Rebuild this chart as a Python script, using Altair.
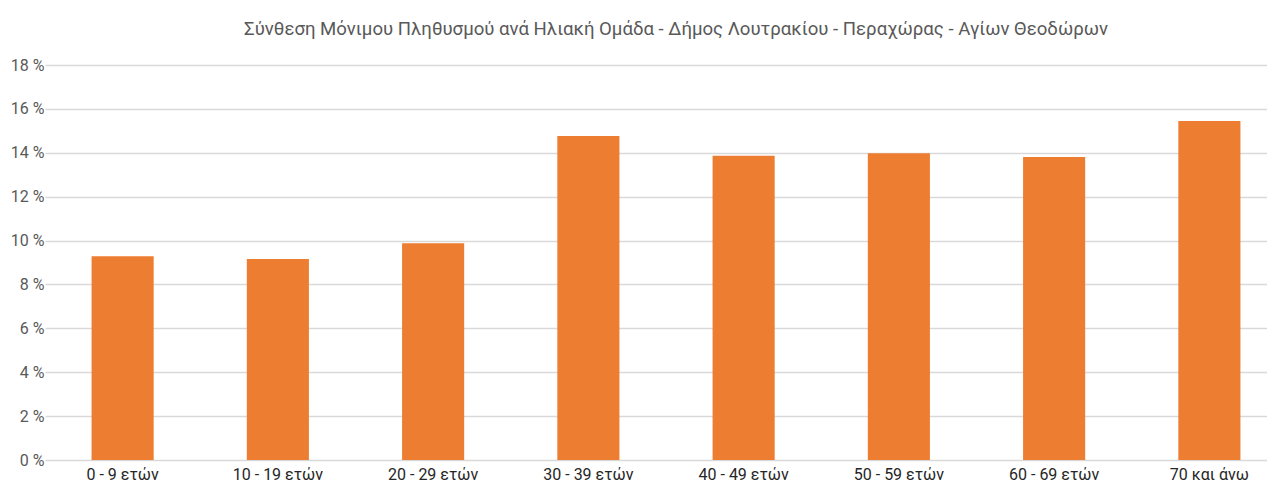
import altair as alt
import pandas as pd

categories = ["0 - 9 ετών", "10 - 19 ετών", "20 - 29 ετών", "30 - 39 ετών",
              "40 - 49 ετών", "50 - 59 ετών", "60 - 69 ετών", "70 και άνω"]
values = [9.28, 9.16, 9.88, 14.77, 13.87, 13.98, 13.81, 15.45]
y_ticks = [0, 2, 4, 6, 8, 10, 12, 14, 16, 18]
title_text = "Σύνθεση Μόνιμου Πληθυσμού ανά Ηλιακή Ομάδα - Δήμος Λουτρακίου - Περαχώρας - Αγίων Θεοδώρων"

df = pd.DataFrame({"cat": categories, "val": values})

chart = alt.Chart(df).mark_bar(color="#ED7D31").encode(
    x=alt.X("cat:N", sort=categories, title=None,
            scale=alt.Scale(paddingInner=0.6, paddingOuter=0.3, range=[-2, 1240]),
            axis=alt.Axis(labelAngle=0, domain=False, ticks=False, labelPadding=6,
                          labelFontSize=16, labelColor="#262626", labelFont="Roboto",
                          grid=False)),
    y=alt.Y("val:Q", title=None, scale=alt.Scale(domain=[0, 18], nice=False),
            axis=alt.Axis(values=y_ticks, labelExpr="datum.value + ' %'", domain=False,
                          ticks=False, labelPadding=3, labelFontSize=16, labelFont="Roboto",
                          labelColor="#595959", gridColor="#d9d9d9", gridWidth=1.5,
                          minExtent=39, maxExtent=39)),
).properties(
    width=1259, height=474,
    autosize=alt.AutoSizeParams(type="fit", contains="padding"),
    title=alt.TitleParams(text=title_text, fontSize=18.6, font="Roboto", color="#595959",
                          fontWeight="normal", offset=18, dx=19),
    padding={"left": 0, "top": 12, "right": 0, "bottom": 0},
).configure_view(stroke=None)

chart.save("out.html", embed_options={"renderer": "svg", "actions": False})
